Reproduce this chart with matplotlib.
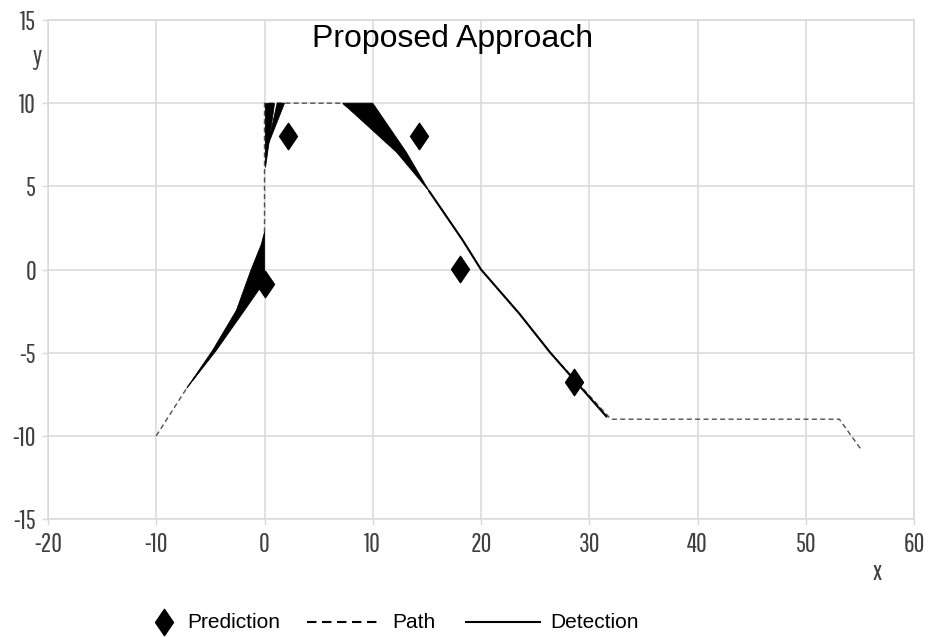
import matplotlib
matplotlib.use("Agg")
import matplotlib.pyplot as plt
from matplotlib.path import Path
from matplotlib.lines import Line2D

plt.rcParams['font.family'] = ['Liberation Sans', 'DejaVu Sans']
plt.rcParams['axes.unicode_minus'] = False
plt.rcParams['lines.scale_dashes'] = False

tick_family = ['Pathway Gothic One', 'Liberation Sans', 'DejaVu Sans']

# ---------------- data ----------------
title = "Proposed Approach"
x_ticks = [-20, -10, 0, 10, 20, 30, 40, 50, 60]
y_ticks = [-15, -10, -5, 0, 5, 10, 15]

# Prediction points
pred_x = [0.0, 2.2, 14.3, 18.1, 28.6]
pred_y = [-0.85, 8.0, 8.0, 0.05, -6.75]

# Path (dashed)
path_x = [-10.0, -7.2, -4.6, -2.2, -0.6, 0.0, 0.0, 7.2, 12.7, 14.9, 18.3, 20.0, 23.55, 26.4, 32.0, 53.1, 55.2]
path_y = [-10.0, -7.15, -4.87, -2.46, 0.0, 2.24, 10.0, 10.0, 7.05, 5.0, 1.77, 0.0, -2.66, -5.0, -9.0, -9.0, -10.9]

# Detection: fan regions (polygon outlines) and the solid detected track
det_fan1_x = [-7.2, -4.8, -2.6, -1.23, -0.3, 0.0, 0.0, -0.5, -1.85, -4.46, -7.2]
det_fan1_y = [-7.15, -4.87, -2.46, 0.0, 1.5, 2.24, -0.3, -1.2, -2.46, -4.87, -7.15]
det_fan2_x = [0.0, 0.0, 0.92]
det_fan2_y = [6.15, 10.0, 10.0]
det_fan3_x = [0.3, 1.17, 1.85]
det_fan3_y = [7.45, 10.0, 10.0]
det_fan4_x = [7.23, 10.0, 13.1, 15.2, 12.2]
det_fan4_y = [10.0, 10.0, 7.05, 4.72, 7.05]
det_track_x = [15.2, 18.3, 20.0, 23.55, 26.4, 31.6]
det_track_y = [4.72, 1.77, 0.0, -2.66, -5.0, -8.85]

legend_labels = ["Prediction", "Path", "Detection"]

# ---------------- figure ----------------
W, H = 932, 637
fig = plt.figure(figsize=(W / 100, H / 100), dpi=100)
ax = fig.add_axes([48 / W, 1 - 519 / H, (914 - 48) / W, (519 - 20) / H])

grid_c = '#d9d9d9'
ax.set_xlim(-20, 60)
ax.set_ylim(-15, 15)
ax.set_xticks(x_ticks)
ax.set_yticks(y_ticks)
ax.grid(True, color=grid_c, linewidth=1.1, zorder=0)
ax.set_axisbelow(True)
for s in ax.spines.values():
    s.set_color(grid_c)
    s.set_linewidth(1.1)
ax.tick_params(axis='both', color=grid_c, length=4.5, width=1.0, labelcolor='#404040', labelsize=19)
ax.tick_params(axis='x', pad=5)
ax.tick_params(axis='y', pad=4)
for lab in ax.get_xticklabels() + ax.get_yticklabels():
    lab.set_family(tick_family)

# diamond marker
diamond = Path([(0, 0.5), (0.34, 0), (0, -0.5), (-0.34, 0), (0, 0.5)],
               [Path.MOVETO, Path.LINETO, Path.LINETO, Path.LINETO, Path.CLOSEPOLY])

# path
ax.plot(path_x, path_y, color='#505050', linewidth=1.0, dashes=(3.6, 2.4), zorder=2)

# detection
for fx, fy in [(det_fan1_x, det_fan1_y), (det_fan2_x, det_fan2_y),
               (det_fan3_x, det_fan3_y), (det_fan4_x, det_fan4_y)]:
    ax.fill(fx, fy, color='black', linewidth=0.6, zorder=3)
ax.plot(det_track_x, det_track_y, color='black', linewidth=1.5, zorder=3, solid_capstyle='round')

# predictions
ax.plot(pred_x, pred_y, linestyle='none', marker=diamond, markersize=19,
        color='black', zorder=4)

# title inside plot
ax.text(17.35, 13.36, title, ha='center', va='baseline', fontsize=23, color='black')

# axis labels
fig.text(37 / W, 1 - 57 / H, 'y', ha='center', va='center', fontsize=19,
         color='#404040', family=tick_family)
fig.text(877 / W, 1 - 572 / H, 'x', ha='center', va='center', fontsize=19,
         color='#404040', family=tick_family)

# legend (bottom)
ly = 1 - 622 / H
fig.add_artist(Line2D([164 / W], [ly], linestyle='none', marker=diamond, markersize=19,
                      color='black', transform=fig.transFigure))
fig.text(187 / W, ly, legend_labels[0], ha='left', va='center', fontsize=15)
fig.add_artist(Line2D([307 / W, 380 / W], [ly, ly], color='black', linewidth=1.5,
                      dashes=(6.8, 4.0), transform=fig.transFigure))
fig.text(392 / W, ly, legend_labels[1], ha='left', va='center', fontsize=15)
fig.add_artist(Line2D([466 / W, 540 / W], [ly, ly], color='black', linewidth=1.5,
                      transform=fig.transFigure))
fig.text(550 / W, ly, legend_labels[2], ha='left', va='center', fontsize=15)

fig.savefig('out.png', dpi=100)
